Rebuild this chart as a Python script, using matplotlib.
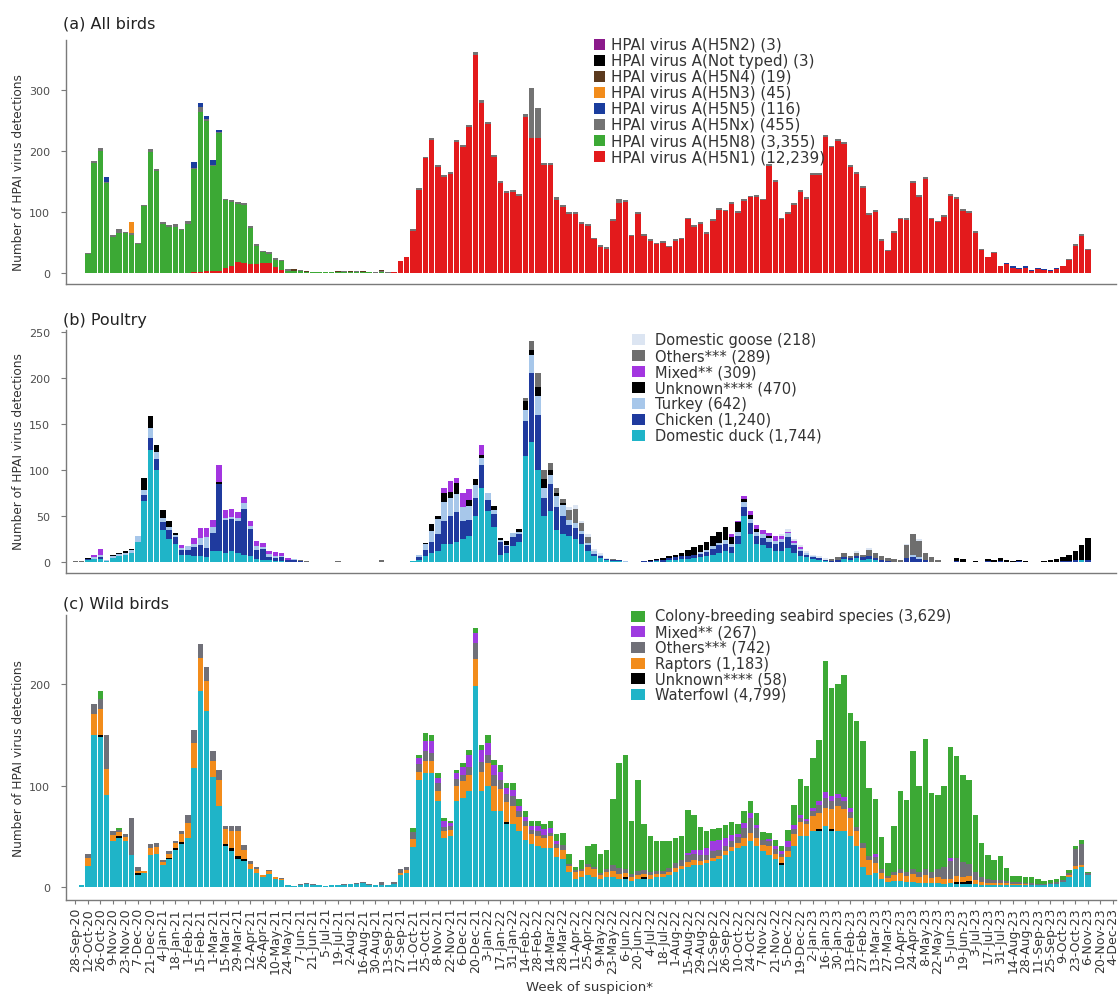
import datetime as dt
import numpy as np
import matplotlib
matplotlib.use("Agg")
import matplotlib.pyplot as plt
from matplotlib.patches import Rectangle

# ---------------- time axis ----------------
N_WEEKS = 167                      # weekly bins from 28-Sep-20 to 4-Dec-23
START = dt.date(2020, 9, 28)

def expand(segments):
    """segments: {first_week_index: [values...]} -> full weekly array"""
    arr = np.zeros(N_WEEKS)
    for start, vals in segments.items():
        arr[start:start + len(vals)] = vals
    return arr

# ---------------- (a) All birds : virus subtypes ----------------
a_h5n1 = {19: [2, 2, 3, 3, 4, 8, 12, 18, 16, 14, 14, 16, 17, 10, 5],
          51: [1, 19, 26, 69, 136, 188, 218, 174, 157, 162, 215, 207, 240, 358, 279, 245, 190, 148, 132, 133,
               127, 256, 221, 221, 177, 177, 120, 108, 97, 97, 80, 77, 55, 43, 39, 86, 115, 117, 61, 97,
               61, 53, 47, 49, 43, 53, 55, 88, 75, 81, 64, 85, 103, 101, 113, 98, 118, 124, 125, 119,
               176, 150, 88, 97, 111, 133, 121, 161, 161, 223, 206, 217, 212, 174, 162, 139, 95, 100, 53, 36,
               66, 88, 87, 148, 125, 154, 88, 83, 92, 127, 121, 102, 99, 66, 37, 26, 33, 11, 15, 8,
               6, 8, 3, 6, 5, 3, 6, 11, 22, 45, 61, 37]}
a_h5n8 = {2: [31, 180, 200, 147, 59, 66, 66, 62, 48, 110, 198, 168, 81, 75, 76, 70, 80, 168, 262, 246,
              172, 225, 111, 104, 95, 96, 60, 31, 18, 15, 12, 14, 4, 4, 3, 2, 1, 1, 1, 2,
              1, 2, 2, 2, 1, 1, 0, 1, 0]}
a_h5nx = {2: [2, 4, 5, 2, 3, 6, 2, 3, 2, 2, 5, 3, 3, 3, 4, 2, 6, 2, 8, 4,
              2, 2, 3, 3, 3, 3, 3, 2, 2, 2, 2, 2, 2, 0, 2, 0, 1, 0, 0, 0,
              0, 1, 0, 2, 1, 1, 1, 3, 1],
          52: [1, 1, 3, 3, 3, 3, 3, 3, 3, 3, 3, 3, 5, 5, 3, 3, 3, 3, 3, 3,
               5, 83, 49, 3, 3, 4, 3, 3, 3, 3, 3, 3, 3, 3, 3, 6, 3, 2, 3, 3,
               2, 3, 3, 2, 3, 3, 3, 3, 2, 3, 3, 3, 3, 3, 3, 3, 3, 3, 3, 3,
               3, 3, 3, 3, 3, 3, 3, 3, 3, 3, 3, 3, 3, 3, 3, 3, 3, 3, 1, 3,
               3, 3, 3, 3, 3, 3, 3, 3, 3, 3, 3, 3, 3, 3, 1, 1, 1, 0, 0, 0,
               0, 0, 0, 0, 0, 0, 1, 1, 3, 3, 3]}
a_h5n5 = {5: [8], 19: [10, 6, 4, 8, 4], 149: [2, 3, 2, 3, 2, 3, 2, 2, 2]}
a_h5n3 = {9: [18]}
a_h5n4 = {34: [1, 2, 0, 2, 0, 0, 1, 0, 2, 1, 2, 0, 1, 0, 0, 1]}
a_nottyped = {50: [1]}
a_h5n2 = {}

a_labels = ["HPAI virus A(H5N2) (3)", "HPAI virus A(Not typed) (3)", "HPAI virus A(H5N4) (19)",
            "HPAI virus A(H5N3) (45)", "HPAI virus A(H5N5) (116)", "HPAI virus A(H5Nx) (455)",
            "HPAI virus A(H5N8) (3,355)", "HPAI virus A(H5N1) (12,239)"]

# ---------------- (b) Poultry : species ----------------
b_duck = {2: [2, 3, 3, 1, 4, 6, 8, 10, 22, 66, 122, 100, 35, 25, 20, 8, 8, 6, 6, 5,
              12, 12, 10, 12, 10, 8, 6, 3, 2, 2, 1, 1, 0, 0, 0],
          54: [1, 2, 6, 10, 12, 20, 20, 22, 25, 28, 50, 80, 55, 38, 8, 10, 17, 22, 115, 130,
               100, 50, 55, 35, 30, 28, 25, 20, 12, 6, 4, 2, 1, 1],
          93: [1, 0, 2, 2, 3, 3, 4, 5, 6, 8, 10, 12, 10, 20, 50, 30, 20, 18, 15, 12,
               12, 15, 10, 7, 5, 3, 2, 1, 0, 0, 3, 2, 4, 2, 3, 2],
          161: [2]}
b_chicken = {2: [1, 0, 2, 0, 0, 0, 0, 0, 0, 7, 13, 12, 8, 10, 7, 5, 5, 10, 12, 10,
                 20, 73, 36, 35, 34, 50, 30, 10, 12, 3, 3, 4, 2, 2, 1],
             55: [3, 7, 12, 18, 25, 30, 32, 20, 18, 20, 25, 12, 14, 14, 7, 10, 8, 38, 75, 60,
                  20, 30, 25, 20, 12, 12, 10, 6, 3, 2, 1, 1, 1],
             91: [1, 1, 1, 2, 2, 3, 3, 4, 4, 4, 5, 6, 8, 8, 6, 8, 10, 12, 8, 8,
                  7, 8, 10, 12, 8, 5, 3, 2, 2, 1, 1, 2, 2, 2, 3, 3, 4, 2, 2, 1,
                  0, 0, 4, 5, 3, 2],
             141: [1, 0, 0, 0, 0, 1, 0, 1, 0, 0, 1, 0, 0, 0, 0, 0, 0, 1, 1, 2, 0, 2]}
b_turkey = {2: [0, 2, 3, 1, 2, 3, 2, 3, 6, 5, 11, 8, 5, 3, 2, 2, 4, 3, 8, 12,
                6, 0, 2, 2, 4, 6, 3, 4, 2, 4, 2, 1, 0, 1, 0],
            55: [3, 6, 12, 17, 20, 20, 20, 15, 15, 14, 8, 8, 4, 2, 1, 5, 3, 12, 20, 20,
                 10, 10, 12, 12, 6, 5, 4, 3, 3, 2, 0, 0, 0, 1],
            100: [2, 2, 3, 3, 4, 3, 5, 5, 5, 5, 4, 4, 3, 3, 4, 3, 2, 2, 1, 0, 0],
            134: [3, 2]}
b_unknown = {2: [1, 0, 0, 0, 2, 1, 2, 1, 0, 13, 13, 7, 8, 6, 3, 0, 0, 0, 0, 0, 0, 2],
             56: [2, 7, 3, 10, 6, 12, 0, 6, 6, 3, 0, 5, 2, 5, 0, 3, 10, 5, 10, 10, 5, 3, 2],
             92: [1, 1, 2, 2, 3, 4, 6, 8, 7, 9, 11, 12, 14, 8, 10, 3, 4, 3, 0, 2],
             141: [3, 3, 0, 1, 0, 2, 2, 3, 2, 1, 1, 1, 0, 0, 1, 2, 3, 4, 7, 10, 16, 24]}
b_mixed = {3: [3, 6, 0, 0, 0, 0, 0, 0, 0, 0, 0, 0, 0, 0, 3, 0, 7, 11, 10, 8,
               18, 8, 8, 6, 7, 5, 6, 5, 3, 5, 4, 2],
           59: [5, 12, 5, 15, 12, 0, 11],
           105: [3, 2, 4, 4, 4, 5, 4, 5, 3, 2, 2, 2]}
b_others = {0: [1, 1], 36: [1, 1], 42: [1], 49: [2],
            72: [3, 10, 15, 10, 8, 5, 4, 10, 15, 8, 6, 0, 0, 0, 1],
            121: [2, 3, 5, 2, 3, 3, 6, 6, 4, 3, 3, 2, 14, 22, 18, 8, 5, 2]}
b_goose = {79: [4, 5, 3, 3, 2, 2, 1], 113: [2, 3, 2, 2, 2, 2, 2, 2], 125: [2, 0, 2], 133: [2, 0, 2]}

b_labels = ["Domestic goose (218)", "Others*** (289)", "Mixed** (309)", "Unknown**** (470)",
            "Turkey (642)", "Chicken (1,240)", "Domestic duck (1,744)"]

# ---------------- (c) Wild birds : groups ----------------
c_waterfowl = {1: [2, 21, 150, 148, 91, 45, 48, 45, 32, 12, 14, 32, 33, 22, 28, 36, 42, 48, 117, 193,
                   173, 108, 80, 40, 35, 28, 26, 18, 14, 10, 13, 8, 7, 2, 1, 2, 3, 2, 2, 1,
                   2, 2, 2, 3, 3, 4, 2, 2, 2, 2],
               51: [3, 12, 14, 39, 105, 112, 112, 85, 48, 50, 85, 88, 95, 198, 95, 100, 75, 75, 62, 62,
                    55, 46, 42, 40, 38, 38, 30, 28, 15, 8, 10, 12, 10, 8, 10, 10, 8, 8, 6, 8,
                    8, 8, 10, 10, 12, 15, 18, 20, 22, 22, 24, 26, 28, 32, 35, 38, 40, 45, 40, 35,
                    32, 28, 22, 30, 40, 50, 50, 55, 55, 60, 55, 55, 55, 50, 40, 20, 12, 14, 8, 5,
                    6, 6, 5, 5, 4, 4, 4, 4, 3, 4, 3, 3, 3, 3, 2, 2, 2, 2, 2, 2,
                    2, 2, 2, 2, 2, 3, 3, 5, 10, 18, 20, 12]}
c_unknown = {4: [2, 0, 0, 2, 0, 0, 2, 0, 0, 0, 0, 1, 2, 2], 24: [2, 3, 3, 2],
             69: [2], 88: [2, 0, 0, 2], 113: [2], 119: [2, 0, 2], 141: [2, 2, 3]}
c_raptors = {2: [8, 20, 25, 25, 6, 4, 4, 0, 2, 2, 6, 6, 3, 4, 5, 8, 15, 25, 33, 30,
                 16, 25, 15, 17, 24, 8, 5, 4, 2, 3, 2, 1],
             52: [2, 3, 8, 8, 12, 12, 10, 7, 6, 15, 16, 15, 27, 18, 22, 25, 22, 20, 18, 14,
                  14, 10, 10, 10, 12, 8, 8, 6, 7, 6, 8, 8, 4, 5, 6, 5, 4, 4, 4, 3,
                  4, 3, 3, 3, 4, 3, 5, 5, 4, 3, 3, 3, 3, 4, 5, 8, 8, 8, 6, 8,
                  5, 6, 5, 12, 14, 12, 15, 16, 18, 20, 25, 22, 18, 15, 18, 15, 10, 6, 4, 6,
                  8, 6, 8, 6, 8, 5, 6, 5, 4, 6, 5, 5, 4, 3, 2, 2, 2, 2, 1, 1,
                  1, 0, 0, 0, 0, 0, 0, 2, 3, 2, 0]}
c_others = {2: [4, 10, 10, 34, 4, 2, 3, 36, 4, 0, 4, 4, 2, 2, 2, 3, 8, 13, 13, 14,
                10, 10, 3, 5, 5, 5, 3, 2, 0, 1, 0, 1, 0, 0, 1, 1, 1, 0, 0, 0,
                0, 1, 0, 1, 1, 1, 0, 3, 0],
            51: [2, 4, 3, 7, 8, 10, 8, 7, 4, 4, 6, 6, 8, 15, 10, 8, 10, 8, 8, 10,
                 6, 5, 4, 5, 3, 3, 4, 5, 2, 2, 2, 3, 2, 2, 3, 6, 6, 4, 3, 4,
                 4, 3, 3, 3, 4, 5, 6, 7, 6, 6, 5, 6, 5, 5, 6, 6, 10, 15, 10, 5,
                 5, 4, 3, 4, 5, 4, 3, 5, 8, 10, 8, 8, 8, 6, 4, 5, 4, 6, 4, 2,
                 3, 4, 4, 5, 5, 6, 6, 8, 12, 18, 18, 15, 12, 8, 5, 4, 3, 3, 2, 2,
                 2, 1, 2, 1, 1, 1, 2, 2, 2, 16, 20, 2]}
c_mixed = {55: [6, 10, 12, 5, 6, 3, 6, 8, 12, 10, 12, 12, 10, 8, 6, 6, 5, 4, 4, 5, 6, 5, 3, 0],
           98: [2, 3, 4, 6, 10, 10, 8, 6, 3, 5, 5, 3, 0, 2, 3, 2, 6, 4, 3, 2,
                3, 4, 6, 5, 4, 4, 4, 0, 0, 0, 3],
           140: [3]}
c_seabird = {4: [8, 0, 0, 2],
             54: [4, 3, 8, 6, 5, 3, 2, 3, 4, 5, 5, 5, 8, 5, 7, 4, 6, 7, 6, 5,
                  5, 5, 7, 7, 12, 10, 3, 9, 17, 22, 19, 18, 65, 103, 112, 52, 89, 45, 35, 29,
                  29, 26, 24, 23, 42, 35, 23, 17, 12, 12, 13, 13, 10, 12, 12, 12, 8, 6, 6, 5,
                  11, 20, 35, 33, 49, 60, 129, 106, 108, 120, 93, 105, 101, 67, 54, 31, 13, 45, 77, 71,
                  116, 85, 128, 78, 73, 80, 109, 100, 85, 82, 56, 33, 24, 20, 24, 13, 6, 6, 6, 6,
                  5, 3, 3, 3, 4, 3, 3, 4, 1]}

c_labels = ["Colony-breeding seabird species (3,629)", "Mixed** (267)", "Others*** (742)",
            "Raptors (1,183)", "Unknown**** (58)", "Waterfowl (4,799)"]

# ---------------- styling ----------------
A_COLORS = ["#E31A1C", "#3CA935", "#737373", "#1A3D9E", "#F28C1B", "#5B3A1E", "#000000", "#8B1A8B"]
B_COLORS = ["#1FB4C8", "#1F3A9E", "#A7C7EA", "#000000", "#A335E0", "#6E6E6E", "#DCE5F2"]
C_COLORS = ["#1FB4C8", "#000000", "#F28C1B", "#707078", "#9E3BE0", "#3CA935"]

W, H = 1119, 995
fig = plt.figure(figsize=(W / 100, H / 100), dpi=100)
fig.patch.set_facecolor("white")
plt.rcParams["font.family"] = ["DejaVu Sans"]

X_LEFT, X_RIGHT = 66, 1116
X_MIN, X_MAX = -1.5, 166.5
x = np.arange(N_WEEKS)
AX_GRAY = "#7A7A7A"
TICK_COL = "#4D4D4D"


def make_axes(top, bottom):
    ax = fig.add_axes([X_LEFT / W, 1 - bottom / H, (X_RIGHT - X_LEFT) / W, (bottom - top) / H])
    ax.set_xlim(X_MIN, X_MAX)
    for s in ["top", "right"]:
        ax.spines[s].set_visible(False)
    for s in ["left", "bottom"]:
        ax.spines[s].set_color(AX_GRAY)
        ax.spines[s].set_linewidth(1.0)
    ax.tick_params(axis="y", length=3.5, width=0.8, color=AX_GRAY, labelsize=8, labelcolor=TICK_COL, pad=8)
    return ax


def stack(ax, series, colors):
    bottom = np.zeros(N_WEEKS)
    for seg, col in zip(series, colors):
        vals = expand(seg)
        ax.bar(x, vals, bottom=bottom, width=0.85, color=col, linewidth=0)
        bottom += vals


def legend(px_patch, px_text, y0, pitch, labels, colors, pw=12, ph=11, fs=10.5):
    for k, (lab, col) in enumerate(zip(labels, colors)):
        yc = y0 + k * pitch
        fig.patches.append(Rectangle((px_patch / W, 1 - (yc + ph / 2) / H), pw / W, ph / H,
                                     transform=fig.transFigure, facecolor=col, edgecolor="none"))
        fig.text(px_text / W, 1 - yc / H, lab, fontsize=fs, color="#333333", va="center", ha="left")


def ylabel(yc):
    fig.text(19 / W, 1 - yc / H, "Number of HPAI virus detections", rotation=90,
             fontsize=8.7, color="#333333", va="center", ha="center")


# (a)
axa = make_axes(41, 285)
stack(axa, [a_h5n1, a_h5n8, a_h5nx, a_h5n5, a_h5n3, a_h5n4, a_nottyped, a_h5n2], A_COLORS)
axa.set_ylim(-18, 382)
axa.set_yticks([0, 100, 200, 300])
axa.set_xticks([])
fig.text(63 / W, 1 - 24 / H, "(a) All birds", fontsize=11.5, color="#222222", va="center", ha="left")
ylabel(173)
legend(594, 611, 45, 16.1, a_labels, A_COLORS[::-1], pw=11, fs=10.9)

# (b)
axb = make_axes(331, 574)
stack(axb, [b_duck, b_chicken, b_turkey, b_unknown, b_mixed, b_others, b_goose], B_COLORS)
axb.set_ylim(-12, 252)
axb.set_yticks([0, 50, 100, 150, 200, 250])
axb.set_xticks([])
fig.text(63 / W, 1 - 320 / H, "(b) Poultry", fontsize=11.5, color="#222222", va="center", ha="left")
ylabel(452)
legend(632, 655, 340.5, 16.0, b_labels, B_COLORS[::-1], pw=13)

# (c)
axc = make_axes(616, 901)
stack(axc, [c_waterfowl, c_unknown, c_raptors, c_others, c_mixed, c_seabird], C_COLORS)
axc.set_ylim(-12.8, 268)
axc.set_yticks([0, 100, 200])
tick_idx = list(range(0, N_WEEKS, 2))
tick_lab = []
for k in tick_idx:
    d = START + dt.timedelta(weeks=k)
    tick_lab.append(f"{d.day}-{d.strftime('%b')}-{d.strftime('%y')}")
axc.set_xticks(tick_idx)
axc.set_xticklabels(tick_lab, rotation=90, fontsize=9, color="#333333")
axc.tick_params(axis="x", length=3, width=0.8, color=AX_GRAY, pad=2)
fig.text(63 / W, 1 - 604 / H, "(c) Wild birds", fontsize=11.5, color="#222222", va="center", ha="left")
ylabel(759)
legend(631, 655, 617, 15.7, c_labels, C_COLORS[::-1], pw=14)

fig.text(590 / W, 1 - 988 / H, "Week of suspicion*", fontsize=9.5,
         color="#333333", va="center", ha="center")

fig.savefig("out.png", dpi=100, facecolor="white")
